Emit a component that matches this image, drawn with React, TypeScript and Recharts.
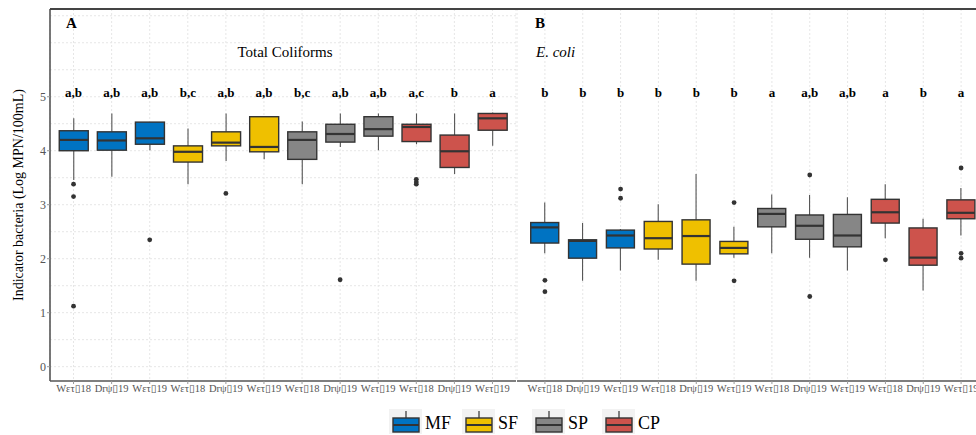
import React from 'react';
import { ComposedChart, Bar, Scatter, XAxis, YAxis, CartesianGrid } from 'recharts';

const groups = ['MF', 'SF', 'SP', 'CP'];
const seasonTicks = ['Wετ▯18', 'Drψ▯19', 'Wετ▯19'];
const groupColors: Record<string, string> = { MF: '#0073c2', SF: '#efc000', SP: '#868686', CP: '#cd534c' };

// Total coliforms (log MPN/100mL), 4 sites x 3 seasons
const tcLow = [3.46, 3.52, 4.01, 3.38, 3.81, 3.84, 3.38, 4.07, 4.01, 4.12, 3.57, 4.09];
const tcQ1 = [4.0, 4.01, 4.12, 3.79, 4.09, 3.98, 3.84, 4.16, 4.27, 4.17, 3.69, 4.38];
const tcMedian = [4.2, 4.19, 4.23, 3.98, 4.15, 4.07, 4.2, 4.31, 4.4, 4.44, 3.99, 4.6];
const tcQ3 = [4.37, 4.35, 4.53, 4.09, 4.35, 4.63, 4.35, 4.49, 4.63, 4.49, 4.29, 4.69];
const tcHigh = [4.6, 4.69, 4.53, 4.41, 4.69, 4.63, 4.54, 4.69, 4.69, 4.69, 4.69, 4.71];
const tcOutliers = [[3.38, 3.15, 1.12], [], [2.35], [], [3.21], [], [], [1.61], [], [3.47, 3.42, 3.38], [], []];
const tcLetters = ['a,b', 'a,b', 'a,b', 'b,c', 'a,b', 'a,b', 'b,c', 'a,b', 'a,b', 'a,c', 'b', 'a'];

// E. coli (log MPN/100mL)
const ecLow = [2.1, 1.59, 1.78, 1.98, 1.59, 2.02, 2.1, 2.02, 1.78, 2.38, 1.41, 2.43];
const ecQ1 = [2.29, 2.01, 2.2, 2.18, 1.9, 2.09, 2.59, 2.36, 2.22, 2.66, 1.88, 2.74];
const ecMedian = [2.58, 2.33, 2.43, 2.38, 2.42, 2.2, 2.83, 2.61, 2.43, 2.86, 2.02, 2.85];
const ecQ3 = [2.67, 2.35, 2.53, 2.69, 2.72, 2.32, 2.93, 2.81, 2.82, 3.1, 2.57, 3.09];
const ecHigh = [3.04, 2.66, 2.55, 3.01, 3.57, 2.59, 3.19, 3.18, 3.14, 3.38, 2.74, 3.31];
const ecOutliers = [[1.6, 1.39], [], [3.29, 3.12], [], [], [3.04, 1.59], [], [3.55, 1.3], [], [1.98], [], [3.68, 2.1, 2.01]];
const ecLetters = ['b', 'b', 'b', 'b', 'b', 'b', 'a', 'a,b', 'a,b', 'a', 'b', 'a'];

const yTicks = [0, 1, 2, 3, 4, 5];
const gridValues = [0, 0.5, 1, 1.5, 2, 2.5, 3, 3.5, 4, 4.5, 5, 5.5, 6, 6.5];
const LETTER_Y = 5.07;
const FONT = '"Liberation Serif", "DejaVu Serif", serif';

type Row = {
  key: string; tick: string; group: string;
  lo: number; q1: number; med: number; q3: number; hi: number;
  o1: number | null; o2: number | null; o3: number | null; letter: string;
};

function buildRows(panel: string, low: number[], q1: number[], med: number[], q3: number[], high: number[],
  outliers: number[][], letters: string[]): Row[] {
  return low.map((lo, i) => ({
    key: `${panel}${i}`,
    tick: seasonTicks[i % 3],
    group: groups[Math.floor(i / 3)],
    lo, q1: q1[i], med: med[i], q3: q3[i], hi: high[i],
    o1: outliers[i][0] ?? null,
    o2: outliers[i][1] ?? null,
    o3: outliers[i][2] ?? null,
    letter: letters[i],
  }));
}

const rowsA = buildRows('A', tcLow, tcQ1, tcMedian, tcQ3, tcHigh, tcOutliers, tcLetters);
const rowsB = buildRows('B', ecLow, ecQ1, ecMedian, ecQ3, ecHigh, ecOutliers, ecLetters);
const tickOf: Record<string, string> = {};
[...rowsA, ...rowsB].forEach((r) => { tickOf[r.key] = r.tick; });

// bar spans the whisker range; box and median placed within it
function BoxShape(props: any) {
  const { x, y, width, height, payload } = props;
  if (!payload) return <g />;
  const { lo, q1, med, q3, hi, group } = payload as Row;
  const k = height / (hi - lo);
  const at = (v: number) => y + (hi - v) * k;
  const cx = x + width / 2;
  return (
    <g>
      <line x1={cx} x2={cx} y1={at(hi)} y2={at(q3)} stroke="#555" strokeWidth={1.1} />
      <line x1={cx} x2={cx} y1={at(q1)} y2={at(lo)} stroke="#555" strokeWidth={1.1} />
      <rect x={x} y={at(q3)} width={width} height={Math.max(at(q1) - at(q3), 0.5)}
        fill={groupColors[group]} stroke="#333" strokeWidth={1.4} />
      <line x1={x} x2={x + width} y1={at(med)} y2={at(med)} stroke="#333" strokeWidth={2.2} />
    </g>
  );
}

const outlierDot = (slot: 'o1' | 'o2' | 'o3') => (props: any) => {
  const { cx, cy, payload } = props;
  if (!payload || payload[slot] == null || !Number.isFinite(cx) || !Number.isFinite(cy)) return <g />;
  return <circle cx={cx} cy={cy} r={2.4} fill="#333" />;
};

function LetterMark(props: any) {
  const { cx, cy, payload } = props;
  if (!payload || !Number.isFinite(cx)) return <g />;
  return (
    <text x={cx} y={cy + 4.5} textAnchor="middle" fontFamily={FONT} fontSize={13} fontWeight="bold" fill="#000">
      {payload.letter}
    </text>
  );
}

function Panel({ rows, width, showY, pad }: { rows: Row[]; width: number; showY: boolean; pad: number }) {
  return (
    <ComposedChart width={width} height={435} data={rows} barCategoryGap="12.5%"
      margin={{ top: 9, right: showY ? 1 : 0, bottom: 24, left: 0 }}>
      <CartesianGrid stroke="#e6e6e6" strokeDasharray="2 2" horizontalValues={gridValues} />
      <XAxis dataKey="key" allowDuplicatedCategory={false} interval={0} height={30}
        padding={{ left: pad, right: pad }} tickFormatter={(k: string) => tickOf[k]}
        tick={{ fontSize: 10.5, fill: '#555', fontFamily: FONT }} tickSize={3} tickMargin={1}
        tickLine={{ stroke: '#999' }} axisLine={{ stroke: '#555', strokeWidth: 1.4 }} />
      {showY ? (
        <YAxis type="number" domain={[-0.265, 6.625]} ticks={yTicks} width={50} allowDataOverflow
          tick={{ fontSize: 12, fill: '#555', fontFamily: FONT }} tickSize={3} tickMargin={1}
          tickLine={{ stroke: '#999' }} axisLine={{ stroke: '#555', strokeWidth: 1.6 }} />
      ) : (
        <YAxis type="number" domain={[-0.265, 6.625]} ticks={yTicks} width={0} allowDataOverflow
          tick={false} tickLine={false} axisLine={{ stroke: '#000', strokeWidth: 1.2 }} />
      )}
      <Bar dataKey={(d: Row) => [d.lo, d.hi]} shape={BoxShape} isAnimationActive={false} />
      <Scatter dataKey="o1" shape={outlierDot('o1')} isAnimationActive={false} />
      <Scatter dataKey="o2" shape={outlierDot('o2')} isAnimationActive={false} />
      <Scatter dataKey="o3" shape={outlierDot('o3')} isAnimationActive={false} />
      <Scatter dataKey={() => LETTER_Y} shape={LetterMark} isAnimationActive={false} />
    </ComposedChart>
  );
}

const legendX = [389, 462, 532, 602];

export default function App() {
  return (
    <div style={{ position: 'absolute', left: 0, top: 0, width: 976, height: 435, overflow: 'hidden', background: '#fff', fontFamily: FONT }}>
      <div style={{ position: 'absolute', left: 0, top: 0 }}>
        <Panel rows={rowsA} width={517} showY pad={4.5} />
      </div>
      <div style={{ position: 'absolute', left: 517, top: 0 }}>
        <Panel rows={rowsB} width={472} showY={false} pad={9} />
      </div>
      <svg width={976} height={435} style={{ position: 'absolute', left: 0, top: 0, pointerEvents: 'none' }}>
        <line x1={50} x2={976} y1={9} y2={9} stroke="#444" strokeWidth={1.8} />
        <text x={66} y={28} fontFamily={FONT} fontSize={15} fontWeight="bold">A</text>
        <text x={535} y={28} fontFamily={FONT} fontSize={15} fontWeight="bold">B</text>
        <text x={285} y={57} textAnchor="middle" fontFamily={FONT} fontSize={15}>Total Coliforms</text>
        <text x={536} y={57} fontFamily={FONT} fontSize={15} fontStyle="italic">E. coli</text>
        <text x={18} y={195} transform="rotate(-90 18 195)" textAnchor="middle" dominantBaseline="central"
          fontFamily={FONT} fontSize={14}>Indicator bacteria (Log MPN/100mL)</text>
        {groups.map((g, i) => {
          const x = legendX[i];
          return (
            <g key={g}>
              <rect x={x} y={409} width={33} height={25} fill="#f2f2f2" />
              <line x1={x + 17} x2={x + 17} y1={411} y2={418} stroke="#333" strokeWidth={1.2} />
              <rect x={x + 4} y={418} width={26} height={14} fill={groupColors[g]} stroke="#333" strokeWidth={1.4} />
              <line x1={x + 4} x2={x + 30} y1={425} y2={425} stroke="#333" strokeWidth={2} />
              <text x={x + 36} y={429} fontFamily={FONT} fontSize={18}>{g}</text>
            </g>
          );
        })}
      </svg>
    </div>
  );
}
